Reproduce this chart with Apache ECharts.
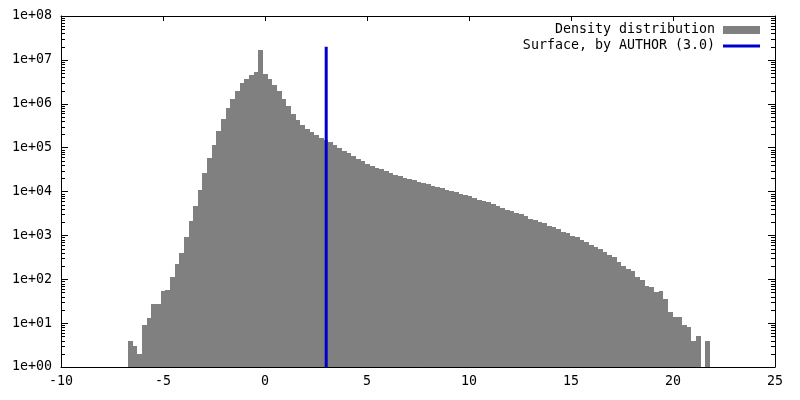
<!DOCTYPE html>
<html><head><meta charset="utf-8">
<script src="https://cdn.jsdelivr.net/npm/echarts@6/dist/echarts.min.js"></script>
<style>html,body{margin:0;padding:0;background:#fff}#c{width:800px;height:400px}</style>
</head><body><div id="c"></div>
<script>
// Histogram bins: left edge of first bin and bin width (x units)
const binStart = -6.716;
const binWidth = 0.2282;
// Counts per bin
const counts = [
  4, 3, 2, 9, 13, 27, 27, 54, 56, 112,
  222, 390, 916, 2130, 4680, 10900, 26300, 59400, 116000, 242000,
  455000, 811000, 1300000, 1980000, 2970000, 3730000, 4600000, 5400000, 17100000, 4850000,
  3730000, 2720000, 1980000, 1300000, 887000, 592000, 431000, 332000, 269000, 230000,
  189000, 170000, 151000, 134000, 116000, 99000, 84500, 76000, 65000, 55500,
  49200, 42700, 38400, 34600, 32800, 29500, 26600, 23900, 22300, 20400,
  19400, 18100, 16600, 15700, 14700, 13400, 12700, 12100, 11000, 10300,
  9770, 8810, 8360, 7930, 7020, 6430, 6100, 5690, 5120, 4690,
  4220, 3730, 3540, 3240, 3030, 2720, 2360, 2240, 2020, 1920,
  1640, 1550, 1400, 1190, 1115, 966, 903, 784, 695, 603,
  551, 488, 417, 356, 315, 246, 199, 173, 153, 112,
  96, 70, 65, 51, 54, 35, 18, 14, 14, 9,
  8, 4, 5, 0, 4
];
// Vertical marker
const surfaceX = [3.0, 3.0];
const surfaceY = [1, 2e7];
const seriesNames = ['Density distribution', 'Surface, by AUTHOR (3.0)'];
// Axes
const xMin = -10, xMax = 25, xStep = 5;
const yMin = 1, yMax = 1e8;
const minorMultipliers = [2, 3, 4, 5, 6, 7, 8, 9];
const decades = [1, 10, 100, 1e3, 1e4, 1e5, 1e6, 1e7];

const FONT = 'DejaVu Sans Mono';
const FS = 13.3;

const histData = counts.map((c, i) => [binStart + i * binWidth, binStart + (i + 1) * binWidth, c]);
const minorValues = [];
decades.forEach(d => minorMultipliers.forEach(m => minorValues.push(m * d)));
const lineData = surfaceX.map((x, i) => [x, surfaceY[i]]);

function fmtY(v) {
  const e = Math.round(Math.log10(v));
  return '1e+' + (e < 10 ? '0' : '') + e;
}

const axisLineStyle = { color: '#000', width: 1 };
const chart = echarts.init(document.getElementById('c'), null, { renderer: 'canvas' });
chart.setOption({
  animation: false,
  backgroundColor: '#fff',
  grid: { left: 61, right: 25, top: 16, bottom: 33, containLabel: false },
  legend: {
    orient: 'vertical', right: 35, top: 17, align: 'right',
    itemWidth: 37, itemHeight: 8, itemGap: 0, selectedMode: false, symbolKeepAspect: true,
    textStyle: { fontFamily: FONT, fontSize: FS, color: '#000', lineHeight: 16, padding: [0, 3, 0, 0] },
    data: [
      { name: seriesNames[0], icon: 'rect' },
      { name: seriesNames[1], icon: 'path://M0,0L37,0L37,3L0,3Z' }
    ]
  },
  xAxis: [
    {
      type: 'value', min: xMin, max: xMax, interval: xStep, position: 'bottom',
      axisLine: { onZero: false, lineStyle: axisLineStyle },
      axisTick: { inside: true, length: 5, lineStyle: axisLineStyle },
      axisLabel: { color: '#000', fontFamily: FONT, fontSize: FS, margin: 8 },
      splitLine: { show: false }
    },
    {
      type: 'value', min: xMin, max: xMax, interval: xStep, position: 'top',
      axisLine: { onZero: false, lineStyle: axisLineStyle },
      axisTick: { inside: true, length: 5, lineStyle: axisLineStyle },
      axisLabel: { show: false }, splitLine: { show: false }
    }
  ],
  yAxis: [
    {
      type: 'log', logBase: 10, min: yMin, max: yMax, splitNumber: 8, interval: 1, position: 'left',
      axisLine: { onZero: false, lineStyle: axisLineStyle },
      axisTick: { inside: true, length: 7, lineStyle: axisLineStyle },
      axisLabel: { color: '#000', fontFamily: FONT, fontSize: FS, margin: 9, formatter: fmtY },
      splitLine: { show: false }
    },
    {
      type: 'log', logBase: 10, min: yMin, max: yMax, splitNumber: 8, interval: 1, position: 'right',
      axisLine: { onZero: false, lineStyle: axisLineStyle },
      axisTick: { inside: true, length: 7, lineStyle: axisLineStyle },
      axisLabel: { show: false }, splitLine: { show: false }
    }
  ],
  series: [
    {
      name: seriesNames[0], type: 'custom', xAxisIndex: 0, yAxisIndex: 0, z: 2,
      data: histData,
      encode: { x: [0, 1], y: 2 },
      itemStyle: { color: '#808080' },
      renderItem: function (params, api) {
        const v = api.value(2);
        if (!(v >= 1)) return null;
        const p0 = api.coord([api.value(0), v]);
        const p1 = api.coord([api.value(1), yMin]);
        const x0 = Math.round(p0[0]), x1 = Math.round(p1[0]);
        const y0 = Math.round(p0[1]), y1 = Math.round(p1[1]);
        return {
          type: 'rect',
          shape: { x: x0, y: y0, width: x1 - x0, height: y1 - y0 },
          style: { fill: '#808080' }
        };
      }
    },
    {
      name: seriesNames[1], type: 'line', xAxisIndex: 0, yAxisIndex: 0, z: 5,
      data: lineData, symbol: 'none', showSymbol: false,
      lineStyle: { color: '#0000cc', width: 3 },
      itemStyle: { color: '#0000cc' }
    }
  ]
});

// Minor log ticks on left and right borders, placed through the y axis scale
const finder = { xAxisIndex: 0, yAxisIndex: 0 };
const minorGraphics = [];
minorValues.forEach(v => {
  const pl = chart.convertToPixel(finder, [xMin, v]);
  const pr = chart.convertToPixel(finder, [xMax, v]);
  if (!pl || !pr) return;
  const y = Math.round(pl[1]);
  minorGraphics.push({ type: 'rect', z: 100, silent: true, shape: { x: Math.round(pl[0]), y: y, width: 4, height: 1 }, style: { fill: '#000' } });
  minorGraphics.push({ type: 'rect', z: 100, silent: true, shape: { x: Math.round(pr[0]) - 4, y: y, width: 4, height: 1 }, style: { fill: '#000' } });
});
chart.setOption({ graphic: minorGraphics });
</script>
</body></html>
